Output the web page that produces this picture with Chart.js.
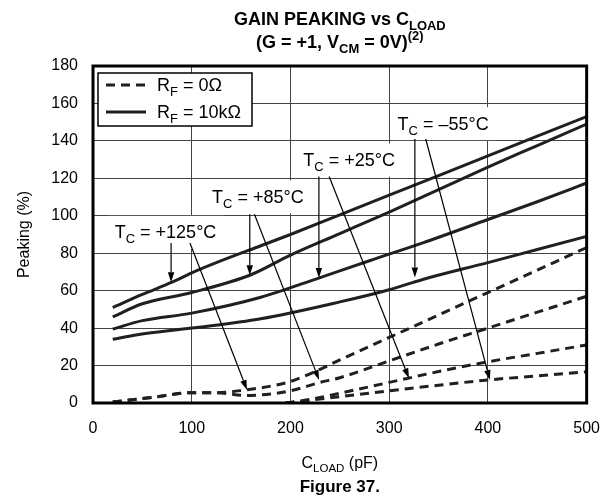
<!DOCTYPE html>
<html lang="en">
<head>
    <meta charset="UTF-8">
    <title>Gain Peaking vs CLOAD</title>
    <style>
        body {
            margin: 0;
            padding: 0;
            background: #ffffff;
        }

        canvas {
            display: block;
        }
    </style>
</head>
<body>
    <canvas id="peakingChart" width="616" height="498"></canvas>

    <script src="https://cdn.jsdelivr.net/npm/chart.js"></script>
    <script>
        // R_F = 10kΩ (solid) curves, one per case temperature
        const solid125X = [20, 50, 80, 100, 130, 170, 200, 250, 300, 350, 400, 450, 500];
        const solid125Y = [51, 58, 64.5, 69.5, 76, 84, 90, 100.5, 111, 121.5, 132, 142.5, 153];
        const solid85X = [20, 50, 100, 160, 200, 250, 300, 350, 400, 450, 500];
        const solid85Y = [46, 53, 59, 68.5, 79, 90.5, 102, 114, 126, 137.5, 149];
        const solid25X = [20, 50, 100, 170, 230, 280, 334, 400, 450, 500];
        const solid25Y = [39.5, 44, 48, 56.5, 67, 76, 85.5, 98, 107.5, 117.5];
        const solidM55X = [20, 45, 100, 170, 250, 300, 334, 400, 450, 500];
        const solidM55Y = [34, 36.5, 40, 45, 54, 60.5, 66, 75, 82, 89];

        // R_F = 0Ω (dashed) curves
        const dash125X = [20, 60, 100, 125, 155, 180, 200, 230, 250, 300, 350, 400, 450, 500];
        const dash125Y = [0.5, 3, 5.5, 5.5, 7, 9, 11.5, 18, 23, 35, 47, 59, 71, 83];
        const dash85X = [20, 60, 100, 125, 155, 180, 200, 230, 250, 300, 350, 400, 450, 500];
        const dash85Y = [0.5, 3, 5.5, 5.5, 4, 4.8, 6.5, 11, 13.5, 22.5, 31.5, 40, 48.5, 57];
        const dash25X = [195, 210, 230, 250, 300, 350, 400, 450, 500];
        const dash25Y = [0, 1, 3, 5.2, 11, 16.8, 22, 26.5, 31];
        const dashM55X = [195, 220, 250, 300, 350, 400, 450, 500];
        const dashM55Y = [0, 1.5, 3.4, 6.5, 9.5, 12.3, 14.5, 16.7];

        // axis ranges / ticks
        const xTicks = [0, 100, 200, 300, 400, 500];
        const yTicks = [0, 20, 40, 60, 80, 100, 120, 140, 160, 180];

        // temperature callouts: label text, label anchor, and arrow ends (data units)
        const tempLabels = [" = –55°C", " = +25°C", " = +85°C", " = +125°C"];
        const labelAt = [[308.5, 149.5], [213, 130], [120.6, 110.4], [22, 91.4]];
        const solidArrows = [[326, 141, 326, 67], [228.8, 121, 228.8, 66.7], [158.8, 100.8, 158.8, 68.3], [79.1, 85.5, 79.1, 64.5]];
        const dashArrows = [[337, 141, 402, 12.3], [239.2, 121, 320, 13.2], [163.5, 100.8, 229, 12.3], [98.2, 85.5, 156, 7]];

        const FONT = '"Liberation Sans", Arial, Helvetica, sans-serif';
        const INK = "#231f20";

        const pts = (xs, ys) => xs.map((x, i) => ({ x: x, y: ys[i] }));

        const lineSet = (xs, ys, dashed) => ({
            data: pts(xs, ys),
            borderColor: INK,
            borderWidth: 3,
            borderDash: dashed ? [9, 6] : [],
            pointRadius: 0,
            fill: false,
            cubicInterpolationMode: "monotone"
        });

        // draws text made of normal / sub / sup pieces, y is the baseline
        function richText(ctx, segs, x, y, size, bold, align) {
            const font = s => (bold ? "bold " : "") + s + "px " + FONT;
            let w = 0;
            segs.forEach(([t, k]) => {
                ctx.font = font(k ? size * 0.72 : size);
                w += ctx.measureText(t).width;
            });
            let cx = align === "center" ? x - w / 2 : x;
            ctx.textAlign = "left";
            ctx.textBaseline = "alphabetic";
            segs.forEach(([t, k]) => {
                ctx.font = font(k ? size * 0.72 : size);
                const dy = k === "sub" ? size * 0.28 : k === "sup" ? -size * 0.42 : 0;
                ctx.fillText(t, cx, y + dy);
                cx += ctx.measureText(t).width;
            });
            return w;
        }

        function arrow(ctx, x1, y1, x2, y2) {
            const a = Math.atan2(y2 - y1, x2 - x1);
            const len = 10, half = 3.2;
            ctx.beginPath();
            ctx.moveTo(x1, y1);
            ctx.lineTo(x2 - Math.cos(a) * len, y2 - Math.sin(a) * len);
            ctx.stroke();
            ctx.beginPath();
            ctx.moveTo(x2, y2);
            ctx.lineTo(x2 - Math.cos(a) * len - Math.sin(a) * half, y2 - Math.sin(a) * len + Math.cos(a) * half);
            ctx.lineTo(x2 - Math.cos(a) * len + Math.sin(a) * half, y2 - Math.sin(a) * len - Math.cos(a) * half);
            ctx.closePath();
            ctx.fill();
        }

        const labelSegs = i => [["T", ""], ["C", "sub"], [tempLabels[i], ""]];

        const figurePlugin = {
            id: "figure",
            beforeDatasetsDraw(chart) {
                // white boxes behind callout labels, over the grid
                const ctx = chart.ctx, xs = chart.scales.x, ys = chart.scales.y;
                ctx.save();
                ctx.fillStyle = "#ffffff";
                labelAt.forEach(([lx, ly], i) => {
                    const px = xs.getPixelForValue(lx), py = ys.getPixelForValue(ly);
                    ctx.font = "18px " + FONT;
                    const w = ctx.measureText("T").width + ctx.measureText(tempLabels[i]).width + 10;
                    ctx.fillRect(px - 6, py - 16, w + 12, 33);
                });
                // legend box
                const a = chart.chartArea;
                ctx.fillRect(a.left + 5, a.top + 7, 154, 53);
                ctx.restore();
            },
            afterDraw(chart) {
                const ctx = chart.ctx, xs = chart.scales.x, ys = chart.scales.y;
                const a = chart.chartArea;
                ctx.save();
                ctx.fillStyle = "#000";
                ctx.strokeStyle = "#000";

                // callouts
                labelAt.forEach(([lx, ly], i) => {
                    richText(ctx, labelSegs(i), xs.getPixelForValue(lx), ys.getPixelForValue(ly) + 6.5, 18, false, "left");
                });
                ctx.lineWidth = 1.2;
                solidArrows.concat(dashArrows).forEach(([x1, y1, x2, y2]) => {
                    arrow(ctx, xs.getPixelForValue(x1), ys.getPixelForValue(y1), xs.getPixelForValue(x2), ys.getPixelForValue(y2));
                });

                // legend
                ctx.lineWidth = 1.5;
                ctx.strokeRect(a.left + 5, a.top + 7, 154, 53);
                ctx.strokeStyle = INK;
                ctx.lineWidth = 3;
                ctx.setLineDash([9, 6]);
                ctx.beginPath();
                ctx.moveTo(a.left + 13, a.top + 19);
                ctx.lineTo(a.left + 53, a.top + 19);
                ctx.stroke();
                ctx.setLineDash([]);
                ctx.beginPath();
                ctx.moveTo(a.left + 13, a.top + 46);
                ctx.lineTo(a.left + 53, a.top + 46);
                ctx.stroke();
                richText(ctx, [["R", ""], ["F", "sub"], [" = 0Ω", ""]], a.left + 64, a.top + 25, 18, false, "left");
                richText(ctx, [["R", ""], ["F", "sub"], [" = 10kΩ", ""]], a.left + 64, a.top + 52, 18, false, "left");

                // plot frame
                ctx.strokeStyle = "#000";
                ctx.lineWidth = 3;
                ctx.strokeRect(a.left, a.top, a.right - a.left, a.bottom - a.top);

                // titles
                const cx = (a.left + a.right) / 2;
                richText(ctx, [["GAIN PEAKING vs C", ""], ["LOAD", "sub"]], cx, 25, 18, true, "center");
                richText(ctx, [["(G = +1, V", ""], ["CM", "sub"], [" = 0V)", ""], ["(2)", "sup"]], cx, 48, 18, true, "center");
                richText(ctx, [["C", ""], ["LOAD", "sub"], [" (pF)", ""]], cx, 468, 16, false, "center");
                richText(ctx, [["Figure 37.", ""]], cx, 492, 17, true, "center");

                ctx.translate(29, (a.top + a.bottom) / 2);
                ctx.rotate(-Math.PI / 2);
                richText(ctx, [["Peaking (%)", ""]], 0, 0, 16, false, "center");
                ctx.restore();
            }
        };

        const ctx = document.getElementById("peakingChart").getContext("2d");
        new Chart(ctx, {
            type: "line",
            data: {
                datasets: [
                    lineSet(solid125X, solid125Y, false),
                    lineSet(solid85X, solid85Y, false),
                    lineSet(solid25X, solid25Y, false),
                    lineSet(solidM55X, solidM55Y, false),
                    lineSet(dash125X, dash125Y, true),
                    lineSet(dash85X, dash85Y, true),
                    lineSet(dash25X, dash25Y, true),
                    lineSet(dashM55X, dashM55Y, true)
                ]
            },
            options: {
                responsive: false,
                animation: false,
                layout: { padding: { top: 66, right: 26, left: 0, bottom: 0 } },
                plugins: {
                    legend: { display: false },
                    tooltip: { enabled: false }
                },
                scales: {
                    x: {
                        type: "linear",
                        min: xTicks[0],
                        max: xTicks[xTicks.length - 1],
                        afterBuildTicks: s => { s.ticks = xTicks.map(v => ({ value: v })); },
                        ticks: { color: "#000", font: { size: 16, family: FONT }, padding: 16, maxRotation: 0 },
                        grid: { color: "#444", lineWidth: 1, drawTicks: false },
                        border: { display: false },
                        afterFit: s => { s.height = 95; }
                    },
                    y: {
                        min: yTicks[0],
                        max: yTicks[yTicks.length - 1],
                        afterBuildTicks: s => { s.ticks = yTicks.map(v => ({ value: v })); },
                        ticks: { color: "#000", font: { size: 16, family: FONT }, padding: 15 },
                        grid: { color: "#444", lineWidth: 1, drawTicks: false },
                        border: { display: false },
                        afterFit: s => { s.width = 93; }
                    }
                }
            },
            plugins: [figurePlugin]
        });
    </script>
</body>
</html>
